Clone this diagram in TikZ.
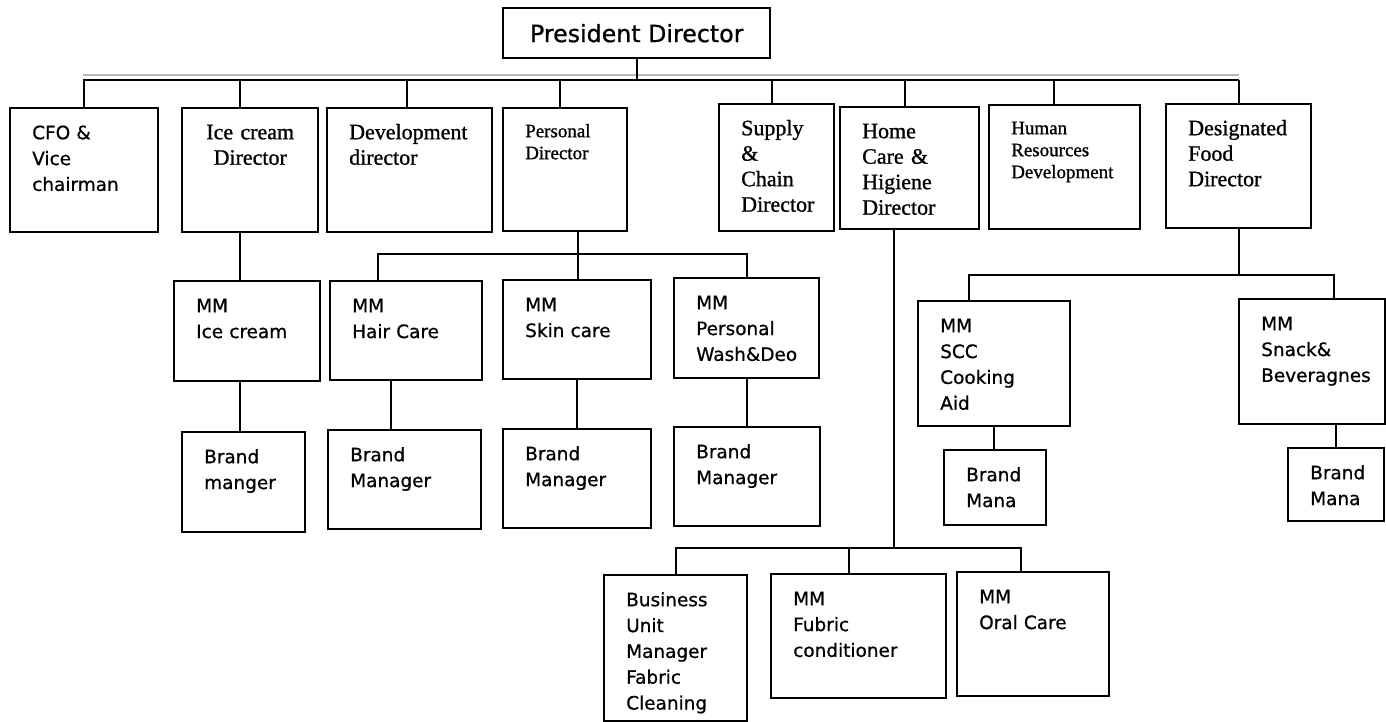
\documentclass[tikz,border=0pt]{standalone}
\usepackage{fontspec}
\setmainfont{Liberation Serif}[RawFeature={embolden=1}]
\newfontfamily\sansf{DejaVu Sans}[RawFeature={embolden=0.8}]
\newdimen\px
\px=0.02cm
\tikzset{
  box/.style={draw, line width=1.4pt, anchor=north west, inner xsep=22\px, inner ysep=0pt, align=left, text height=31\px},
  sans/.style={font=\sansf\fontsize{10.5}{14.7}\selectfont},
  serif/.style={font=\fontsize{12.5}{14.5}\selectfont},
  smallserif/.style={font=\fontsize{10.8}{12.5}\selectfont, text height=29\px},
  link/.style={line width=1.4pt},
}
\begin{document}
\begin{tikzpicture}[x=0.02cm, y=-0.02cm]
\useasboundingbox (0,0) rectangle (1386,722);
% top
\node[draw, line width=1.4pt, anchor=north west, minimum width=267\px, minimum height=50\px, inner sep=0pt,
  font=\sansf\fontsize{13.5}{16}\selectfont] (pres) at (502,7) {President Director};
% directors
\node[box, sans, text width=104\px, text depth=93\px] (cfo) at (9,107) {CFO \&\\Vice\\chairman};
\node[box, serif, align=center, text width=92\px, text depth=93\px] (icd) at (181,107) {Ice cream\\Director};
\node[box, serif, text width=121\px, text depth=93\px] (dev) at (326,107) {Development\\director};
\node[box, smallserif, text width=80\px, text depth=94\px] (pers) at (502,107) {Personal\\Director};
\node[box, serif, text width=71\px, text depth=96\px] (supply) at (718,103) {Supply\\\&\\Chain\\Director};
\node[box, serif, text width=95\px, text depth=91\px] (home) at (839,106) {Home\\Care \&\\Higiene\\Director};
\node[box, smallserif, text width=107\px, text depth=95\px] (hr) at (988,104) {Human\\Resources\\Development};
\node[box, serif, text width=101\px, text depth=93\px] (food) at (1165,103) {Designated\\Food\\Director};
% marketing managers
\node[box, sans, text width=102\px, text depth=69\px] (mmice) at (173,280) {MM\\Ice cream};
\node[box, sans, text width=108\px, text depth=68\px] (mmhair) at (329,280) {MM\\Hair Care};
\node[box, sans, text width=104\px, text depth=68\px] (mmskin) at (502,279) {MM\\Skin care};
\node[box, sans, text width=101\px, text depth=69\px] (mmwash) at (673,277) {MM\\Personal\\Wash\&Deo};
\node[box, sans, text width=108\px, text depth=94\px] (mmscc) at (917,300) {MM\\SCC\\Cooking\\Aid};
\node[box, sans, text width=102\px, text depth=94\px] (mmsnack) at (1238,298) {MM\\Snack\&\\Beveragnes};
% brand managers
\node[box, sans, text width=79\px, text depth=69\px] (bice) at (181,431) {Brand\\manger};
\node[box, sans, text width=109\px, text depth=68\px] (bhair) at (327,429) {Brand\\Manager};
\node[box, sans, text width=104\px, text depth=68\px] (bskin) at (502,428) {Brand\\Manager};
\node[box, sans, text width=102\px, text depth=68\px] (bwash) at (673,426) {Brand\\Manager};
\node[box, sans, text width=58\px, text depth=44\px] (bscc) at (943,449) {Brand\\Mana};
\node[box, sans, text width=52\px, text depth=42\px] (bsnack) at (1287,447) {Brand\\Mana};
% home care units
\node[box, sans, text width=99\px, text depth=115\px] (bufab) at (603,574) {Business\\Unit\\Manager\\Fabric\\Cleaning};
\node[box, sans, text width=131\px, text depth=93\px] (mmfub) at (770,573) {MM\\Fubric\\conditioner};
\node[box, sans, text width=108\px, text depth=93\px] (mmoral) at (956,571) {MM\\Oral Care};
% main bus
\coordinate (rulel) at (83,75);
\coordinate (ruler) at (1239,75);
\coordinate (busl) at (83,80);
\coordinate (busr) at (1239,80);
\draw[gray!55, line width=0.8pt] (rulel) -- (ruler);
\draw[link] (busl) -- (busr);
\draw[link] (pres.south) -- (pres.south |- busl);
\foreach \n/\dx in {cfo/0, icd/-10, dev/-3, pers/-5, supply/-5, home/-5, hr/-11, food/0}
  \draw[link] ([xshift=\dx\px]\n.north) -- ([xshift=\dx\px]\n.north |- busl);
% ice cream
\coordinate (idrop) at ([xshift=-10\px]icd.south);
\draw[link] (idrop) -- (idrop |- mmice.north);
\draw[link] (idrop |- mmice.south) -- (idrop |- bice.north);
% personal
\coordinate (pdrop) at ([xshift=13\px]pers.south);
\coordinate (pbus) at (577,254);
\draw[link] (pdrop) -- (pdrop |- mmskin.north);
\draw[link] ([xshift=-28\px]mmhair.north) |- (pbus) -| (mmwash.north);
\coordinate (hairdrop) at ([xshift=-15\px]mmhair.south);
\draw[link] (hairdrop) -- (hairdrop |- bhair.north);
\draw[link] (mmskin.south) -- (mmskin.south |- bskin.north);
\draw[link] (mmwash.south) -- (mmwash.south |- bwash.north);
% home care
\coordinate (hdrop) at ([xshift=-16\px]home.south);
\coordinate (hbus) at (hdrop |- 0,548);
\draw[link] (hdrop) -- (hbus);
\draw[link] (bufab.north) |- (hbus) -| ([xshift=-12\px]mmoral.north);
\coordinate (fdrop) at ([xshift=-10\px]mmfub.north);
\draw[link] (fdrop) -- (fdrop |- hbus);
% food
\coordinate (fbus) at (food.south |- 0,275);
\draw[link] (food.south) -- (fbus);
\draw[link] ([xshift=-25\px]mmscc.north) |- (fbus) -| ([xshift=22\px]mmsnack.north);
\draw[link] (mmscc.south) -- (mmscc.south |- bscc.north);
\draw[link] (bsnack.north) -- (bsnack.north |- mmsnack.south);
\end{tikzpicture}
\end{document}
